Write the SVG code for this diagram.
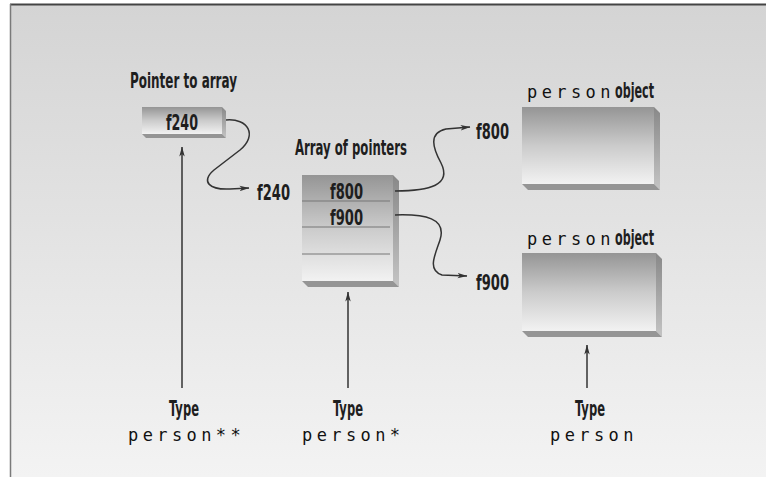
<svg xmlns="http://www.w3.org/2000/svg" width="766" height="477" viewBox="0 0 766 477">
<defs>
<linearGradient id="bg" x1="0" y1="0" x2="0" y2="1">
<stop offset="0" stop-color="#d4d4d4"/>
<stop offset="1" stop-color="#f3f3f3"/>
</linearGradient>
<linearGradient id="front" x1="0" y1="0" x2="0" y2="1">
<stop offset="0" stop-color="#959595"/>
<stop offset="0.5" stop-color="#cbcbcb"/>
<stop offset="1" stop-color="#f2f2f2"/>
</linearGradient>
<linearGradient id="side" x1="0" y1="0" x2="0" y2="1">
<stop offset="0" stop-color="#888888"/>
<stop offset="1" stop-color="#c4c4c4"/>
</linearGradient>
<marker id="arr" viewBox="0 0 10 6" refX="9.5" refY="3" markerWidth="10" markerHeight="6" markerUnits="userSpaceOnUse" orient="auto">
<path d="M0,0.3 L10,3 L0,5.7 L2.5,3 z" fill="#333"/>
</marker>
<style>
.lbl{font-family:"Liberation Sans Narrow","DejaVu Sans Condensed","Arial Narrow",sans-serif;font-weight:bold;font-stretch:condensed;font-size:21px;fill:#1e1e1e}
.mono{font-family:"DejaVu Sans Mono","Liberation Mono",monospace;font-size:17px;letter-spacing:4.4px;fill:#111}
.front{fill:url(#front)}
.side{fill:url(#side)}
.bottom{fill:#959595}
.conn{fill:none;stroke:#333;stroke-width:1.5}
.sep{stroke:#777;stroke-width:1.2}
</style>
</defs>
<rect x="0" y="0" width="766" height="477" fill="#ffffff"/>
<rect x="10" y="4" width="756" height="473" fill="url(#bg)"/>
<line x1="10" y1="4.5" x2="766" y2="4.5" stroke="#444" stroke-width="2"/>
<line x1="10.5" y1="4" x2="10.5" y2="477" stroke="#7a7a7a" stroke-width="1.5"/>

<g id="pointer-to-array">
<text class="lbl" x="130" y="88" textLength="107" lengthAdjust="spacingAndGlyphs">Pointer to array</text>
<polygon class="side" points="222,107 226,111 226,138 222,134"/>
<polygon class="bottom" points="142,134 222,134 226,138 146,138"/>
<rect class="front" x="142" y="107" width="80" height="27"/>
<text class="lbl" x="166" y="130" textLength="32" lengthAdjust="spacingAndGlyphs">f240</text>
</g>

<g id="f240-label">
<text class="lbl" x="257" y="200" textLength="33" lengthAdjust="spacingAndGlyphs">f240</text>
</g>

<g id="array-of-pointers">
<text class="lbl" x="295" y="155" textLength="112" lengthAdjust="spacingAndGlyphs">Array of pointers</text>
<polygon class="side" points="393,175 399,181 399,287 393,281"/>
<polygon class="bottom" points="302,281 393,281 399,287 308,287"/>
<rect class="front" x="302" y="175" width="91" height="106"/>
<line class="sep" x1="302" y1="201" x2="390" y2="201"/>
<line class="sep" x1="302" y1="227" x2="390" y2="227"/>
<line class="sep" x1="302" y1="254" x2="390" y2="254"/>
<text class="lbl" x="330" y="199" textLength="33" lengthAdjust="spacingAndGlyphs">f800</text>
<text class="lbl" x="330" y="225" textLength="33" lengthAdjust="spacingAndGlyphs">f900</text>
</g>

<g id="f800-label">
<text class="lbl" x="476" y="139" textLength="33" lengthAdjust="spacingAndGlyphs">f800</text>
</g>
<g id="f900-label">
<text class="lbl" x="476" y="290" textLength="33" lengthAdjust="spacingAndGlyphs">f900</text>
</g>

<g id="person-object-1">
<text class="mono" x="527" y="98">person</text>
<text class="lbl" x="615" y="98" textLength="39" lengthAdjust="spacingAndGlyphs">object</text>
<polygon class="side" points="654,107 660,113 660,190 654,184"/>
<polygon class="bottom" points="522,184 654,184 660,190 528,190"/>
<rect class="front" x="522" y="107" width="132" height="77"/>
</g>

<g id="person-object-2">
<text class="mono" x="527" y="245">person</text>
<text class="lbl" x="615" y="245" textLength="39" lengthAdjust="spacingAndGlyphs">object</text>
<polygon class="side" points="656,253 662,259 662,337 656,331"/>
<polygon class="bottom" points="522,331 656,331 662,337 528,337"/>
<rect class="front" x="522" y="253" width="134" height="78"/>
</g>

<g id="type-person-ptr-ptr">
<text class="lbl" x="169" y="416" textLength="30" lengthAdjust="spacingAndGlyphs">Type</text>
<text class="mono" x="128" y="441">person**</text>
</g>
<g id="type-person-ptr">
<text class="lbl" x="333" y="416" textLength="30" lengthAdjust="spacingAndGlyphs">Type</text>
<text class="mono" x="302" y="441">person*</text>
</g>
<g id="type-person">
<text class="lbl" x="575" y="416" textLength="30" lengthAdjust="spacingAndGlyphs">Type</text>
<text class="mono" x="550" y="441">person</text>
</g>

<g id="connectors">
<path class="conn" marker-end="url(#arr)" d="M226,120 C248,118 258,135 240,150 L214,170 C200,182 210,190 230,189 L249,188"/>
<path class="conn" marker-end="url(#arr)" d="M395,191 C430,191 452,185 441,163 C433,148 428,133 446,129 L470,127"/>
<path class="conn" marker-end="url(#arr)" d="M395,215 C425,214 447,218 440,240 C435,255 427,270 442,275 L467,276"/>
<line class="conn" marker-end="url(#arr)" x1="182" y1="388" x2="182" y2="147"/>
<line class="conn" marker-end="url(#arr)" x1="348" y1="388" x2="348" y2="292"/>
<line class="conn" marker-end="url(#arr)" x1="587" y1="388" x2="587" y2="345"/>
</g>
</svg>
